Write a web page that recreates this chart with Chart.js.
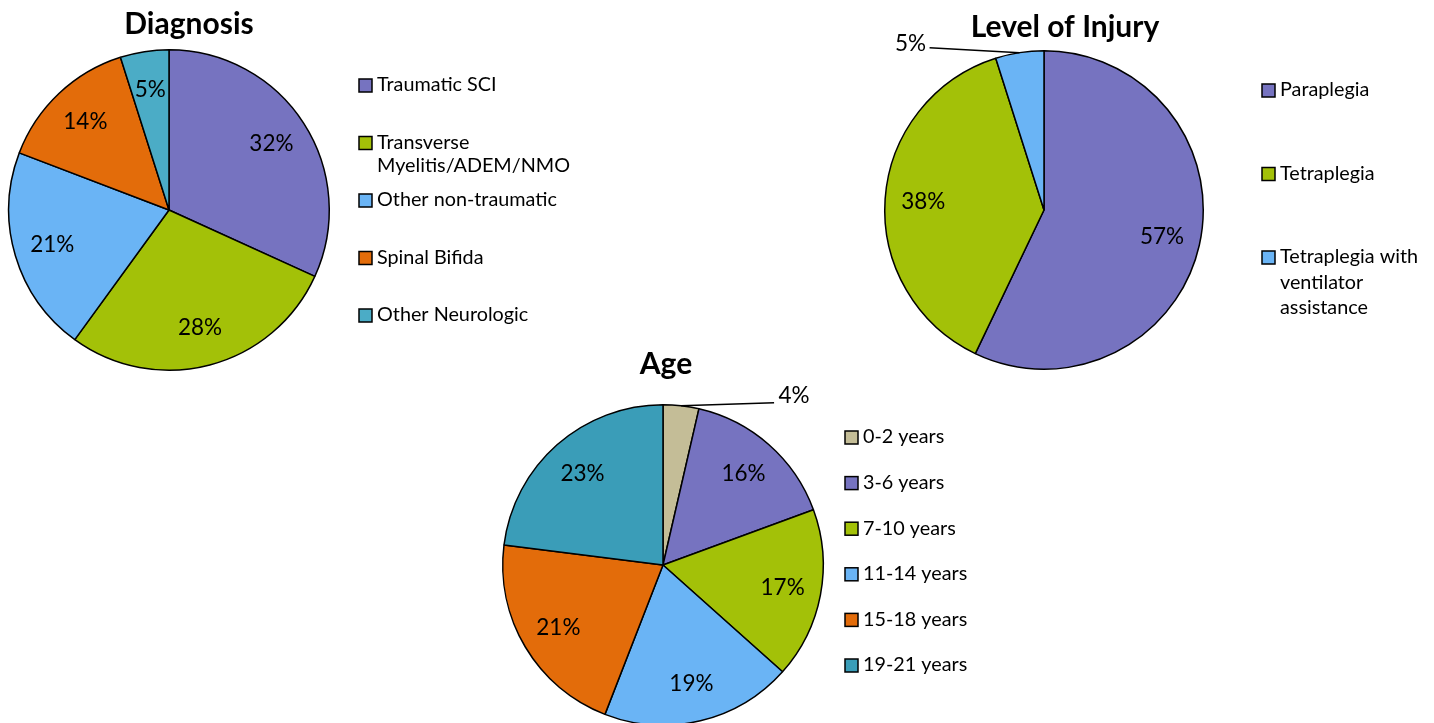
<!DOCTYPE html>
<html>
<head>
<meta charset="utf-8">
<title>Diagnosis, Level of Injury, Age</title>
<script src="https://cdn.jsdelivr.net/npm/chart.js@4.4.1/dist/chart.umd.min.js"></script>
<style>
  html, body { margin: 0; padding: 0; background: #fff; overflow: hidden; }
  #page { position: relative; width: 1434px; height: 723px; overflow: hidden; }
  #page canvas { position: absolute; left: 0; top: 0; }
</style>
</head>
<body>
<div id="page">
  <canvas id="diagnosis-chart" width="1434" height="760"></canvas>
  <canvas id="injury-chart" width="1434" height="760"></canvas>
  <canvas id="age-chart" width="1434" height="760"></canvas>
</div>
<script>
// Chart data (percent of patients)
const diagnosisLabels = ['Traumatic SCI', 'Transverse\nMyelitis/ADEM/NMO', 'Other non-traumatic', 'Spinal Bifida', 'Other Neurologic'];
const diagnosisValues = [31.8, 28.2, 20.8, 14.3, 4.9];

const injuryLabels = ['Paraplegia', 'Tetraplegia', 'Tetraplegia with\nventilator\nassistance'];
const injuryValues = [57.1, 38.0, 4.9];

const ageLabels = ['0-2 years', '3-6 years', '7-10 years', '11-14 years', '15-18 years', '19-21 years'];
const ageValues = [3.6, 15.8, 17.2, 19.3, 21.1, 23.0];

// Colours
const diagnosisColors = ['#7673C0', '#A3C108', '#6AB4F5', '#E36C0A', '#4BACC6'];
const injuryColors = ['#7673C0', '#A3C108', '#6AB4F5'];
const ageColors = ['#C4BD97', '#7673C0', '#A3C108', '#6AB4F5', '#E36C0A', '#3A9DB8'];

const FONT = 'Lato, "Open Sans", sans-serif';
const W = 1434, H = 760;

// draws % labels, title and legend on top of the pie
const piePainter = {
    id: 'piePainter',
    afterDatasetsDraw(chart, args, opts) {
        const ctx = chart.ctx;
        const meta = chart.getDatasetMeta(0);
        const values = chart.data.datasets[0].data;
        const colors = chart.data.datasets[0].backgroundColor;
        const total = values.reduce((a, b) => a + b, 0);

        ctx.save();
        ctx.fillStyle = '#000';
        ctx.strokeStyle = '#000';
        ctx.textAlign = 'center';
        ctx.textBaseline = 'middle';
        ctx.font = '22.5px ' + FONT;

        meta.data.forEach((arc, i) => {
            const p = arc.getProps(['x', 'y', 'startAngle', 'endAngle', 'outerRadius'], true);
            const mid = (p.startAngle + p.endAngle) / 2;
            const text = Math.round(values[i] / total * 100) + '%';
            const out = opts.outside && opts.outside[i];
            if (out) {
                const ex = p.x + Math.cos(mid) * p.outerRadius;
                const ey = p.y + Math.sin(mid) * p.outerRadius;
                ctx.beginPath();
                ctx.moveTo(ex, ey);
                ctx.lineTo(ex + out.line[0], ey + out.line[1]);
                ctx.lineWidth = 1.5;
                ctx.stroke();
                ctx.fillText(text, ex + out.text[0], ey + out.text[1]);
            } else {
                const r = p.outerRadius * opts.labelRadius;
                ctx.fillText(text, p.x + Math.cos(mid) * r, p.y + Math.sin(mid) * r);
            }
        });

        // title
        ctx.font = 'bold 30px ' + FONT;
        ctx.fillText(opts.title.text, opts.title.x, opts.title.y);

        // legend
        const lg = opts.legend;
        ctx.font = '19.8px ' + FONT;
        ctx.textAlign = 'left';
        chart.data.labels.forEach((label, i) => {
            const rowY = lg.y + i * lg.gap;
            ctx.fillStyle = colors[i];
            ctx.fillRect(lg.x, rowY - 6, 13, 13);
            ctx.lineWidth = 1.5;
            ctx.strokeRect(lg.x, rowY - 6, 13, 13);
            ctx.fillStyle = '#000';
            label.split('\n').forEach((line, k) => {
                ctx.fillText(line, lg.x + 18, rowY + k * lg.lineHeight);
            });
        });
        ctx.restore();
    }
};

const makePie = (id, labels, values, colors, cx, cy, r, painter) => {
    return new Chart(document.getElementById(id), {
        type: 'pie',
        data: {
            labels: labels,
            datasets: [{
                data: values,
                backgroundColor: colors,
                borderColor: '#000',
                borderWidth: 1.5
            }]
        },
        options: {
            responsive: false,
            animation: false,
            events: [],
            layout: {
                padding: {
                    left: cx - r - 1,
                    top: cy - r - 1,
                    right: W - (cx + r + 1),
                    bottom: H - (cy + r + 1)
                }
            },
            plugins: {
                legend: { display: false },
                tooltip: { enabled: false },
                title: { display: false },
                piePainter: painter
            }
        },
        plugins: [piePainter]
    });
};

makePie('diagnosis-chart', diagnosisLabels, diagnosisValues, diagnosisColors, 169, 210, 160, {
    labelRadius: 0.76,
    title: { text: 'Diagnosis', x: 189, y: 24 },
    legend: { x: 359, y: 85, gap: 57.5, lineHeight: 23 }
});

makePie('injury-chart', injuryLabels, injuryValues, injuryColors, 1044, 210, 159, {
    labelRadius: 0.76,
    outside: { 2: { line: [-90, -5], text: [-109, -9] } },
    title: { text: 'Level of Injury', x: 1065, y: 27 },
    legend: { x: 1262, y: 90, gap: 83.5, lineHeight: 25.5 }
});

makePie('age-chart', ageLabels, ageValues, ageColors, 663, 565, 160, {
    labelRadius: 0.76,
    outside: { 0: { line: [93, -3], text: [113, -10] } },
    title: { text: 'Age', x: 666, y: 364 },
    legend: { x: 845, y: 437, gap: 45.6, lineHeight: 24 }
});
</script>
</body>
</html>
